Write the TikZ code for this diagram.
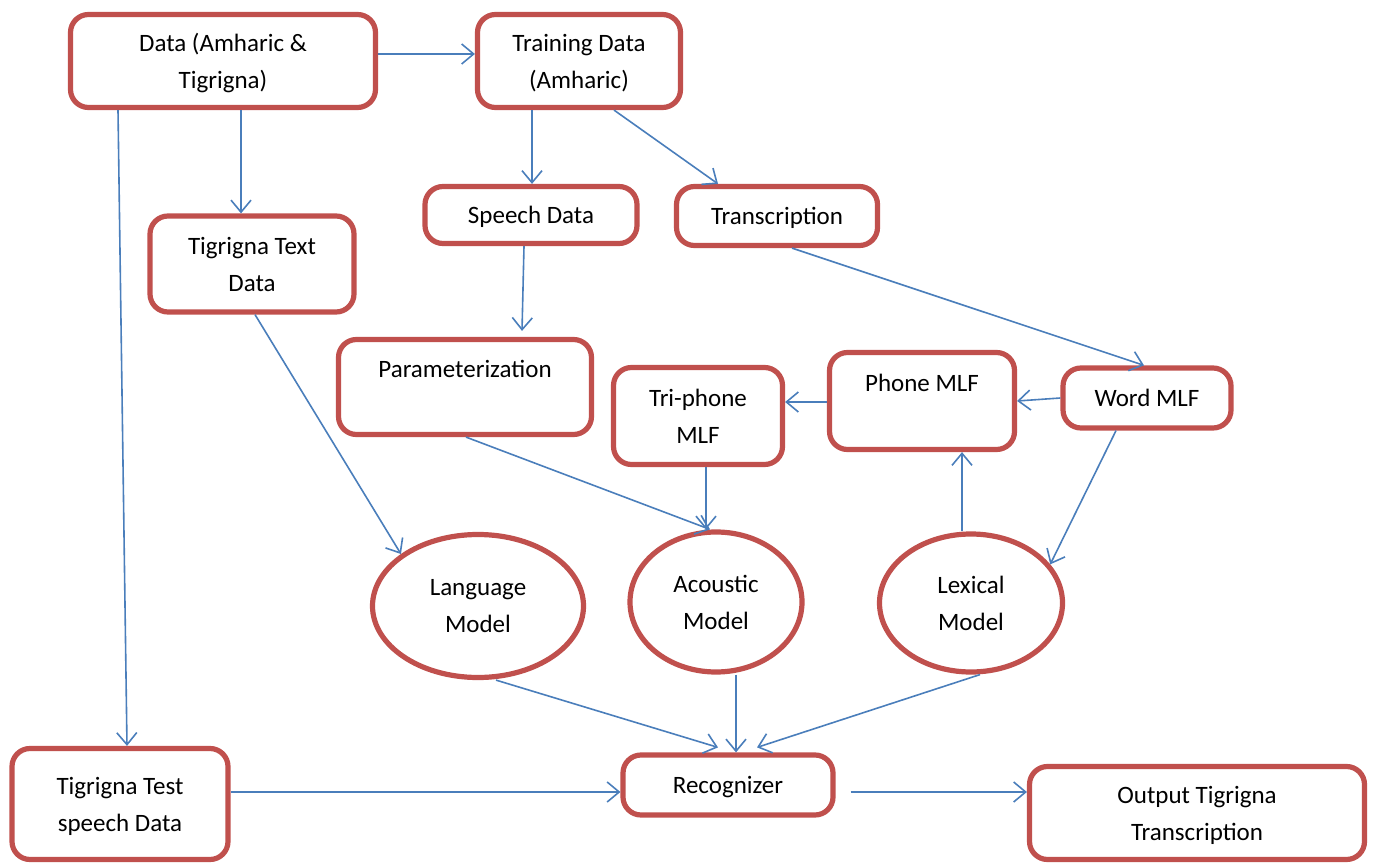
\documentclass[tikz,border=0pt]{standalone}
\usepackage{fontspec}
\setmainfont{Carlito}
\usetikzlibrary{shapes.geometric,arrows.meta}
\definecolor{boxred}{RGB}{192,80,77}
\definecolor{arrblue}{RGB}{74,126,187}
\begin{document}
\begin{tikzpicture}[x=0.5pt,y=-0.5pt,
			every node/.style={font=\fontsize{12.5}{18.5}\selectfont,align=center,inner sep=0pt},
			box/.style={draw=boxred,line width=2.6pt,rounded corners=9pt,fill=white,text depth=0pt},
			oval/.style={draw=boxred,line width=2.6pt,ellipse,fill=white},
			arr/.style={draw=arrblue,line width=0.8pt,-{Straight Barb[length=6pt,width=10pt]}}]
			\useasboundingbox (0,0) rectangle (1374,865);
			\node[box,minimum width=152.5pt,minimum height=46.5pt] (data) at (223,61) {Data (Amharic \&\\Tigrigna)};
			\node[box,minimum width=101.5pt,minimum height=46.5pt] (train) at (579,61) {Training Data\\(Amharic)};
			\node[box,minimum width=106pt,minimum height=28.5pt] (speech) at (531,215) {Speech Data};
			\node[box,minimum width=100.5pt,minimum height=29.5pt] (trans) at (777,216) {Transcription};
			\node[box,minimum width=102pt,minimum height=48pt] (textdata) at (252,264) {Tigrigna Text\\Data};
			\node[box,minimum width=126.5pt,minimum height=47.5pt] (param) at (465,387) {Parameterization\\~};
			\node[box,minimum width=84.5pt,minimum height=48.5pt] (triphone) at (698,416) {Tri-phone\\MLF};
			\node[box,minimum width=92.5pt,minimum height=48.5pt] (phone) at (922,401) {Phone MLF\\~};
			\node[box,minimum width=84pt,minimum height=30pt] (word) at (1147,398) {Word MLF};
			\node[oval,minimum width=105.5pt,minimum height=71.5pt] (lang) at (478,606) {Language\\Model};
			\node[oval,minimum width=86pt,minimum height=70pt] (acou) at (716,602) {Acoustic\\Model};
			\node[oval,minimum width=91.5pt,minimum height=69pt] (lex) at (971,603) {Lexical\\Model};
			\node[box,minimum width=108pt,minimum height=55.5pt] (test) at (120,804) {Tigrigna Test\\speech Data};
			\node[box,minimum width=105pt,minimum height=30pt] (recog) at (728,785) {Recognizer};
			\node[box,minimum width=167.5pt,minimum height=46.5pt] (output) at (1197,813) {Output Tigrigna\\Transcription};
			\draw[arr] ([yshift=3.5pt]data.east) -- ([yshift=3.5pt]train.west);
			\draw[arr] ([xshift=9pt]data.south) -- ([xshift=-5.5pt]textdata.north);
			\draw[arr] ([xshift=-52.5pt]data.south) -- ([xshift=3.5pt]test.north);
			\draw[arr] ([xshift=-23.5pt]train.south) -- ([xshift=0.5pt]speech.north);
			\draw[arr] ([xshift=17.5pt]train.south) -- ([xshift=-29.5pt]trans.north);
			\draw[arr] ([xshift=-3.5pt]speech.south) -- ([xshift=28.5pt,yshift=3pt]param.north);
			\draw[arr] ([xshift=7.5pt]trans.south) -- ([xshift=-1.5pt]word.north);
			\draw[arr] (word.west) -- (phone.east);
			\draw[arr] ([yshift=-0.5pt]phone.west) -- ([yshift=7pt]triphone.east);
			\draw[arr] ([xshift=4pt]triphone.south) -- ([xshift=-5pt]acou.north);
			\draw[arr] ([xshift=0.5pt]param.south) -- ([xshift=-3pt]acou.north);
			\draw[arr] ([xshift=1.5pt]textdata.south) -- (lang.146);
			\draw[arr] ([xshift=-4.5pt]lex.north) -- ([xshift=20pt]phone.south);
			\draw[arr] ([xshift=-15.5pt]word.south) -- (lex.26);
			\draw[arr] ([xshift=9pt]lang.south) -- ([xshift=-5pt,yshift=2.5pt]recog.north);
			\draw[arr] ([xshift=10pt]acou.south) -- ([xshift=4pt]recog.north);
			\draw[arr] ([xshift=4.5pt]lex.south) -- ([xshift=14.5pt,yshift=2.5pt]recog.north);
			\draw[arr] ([yshift=6pt]test.east) -- ([yshift=-3.5pt]recog.west);
			\draw[arr] ([xshift=7.5pt,yshift=-3.5pt]recog.east) -- ([yshift=10.5pt]output.west);
\end{tikzpicture}
\end{document}
